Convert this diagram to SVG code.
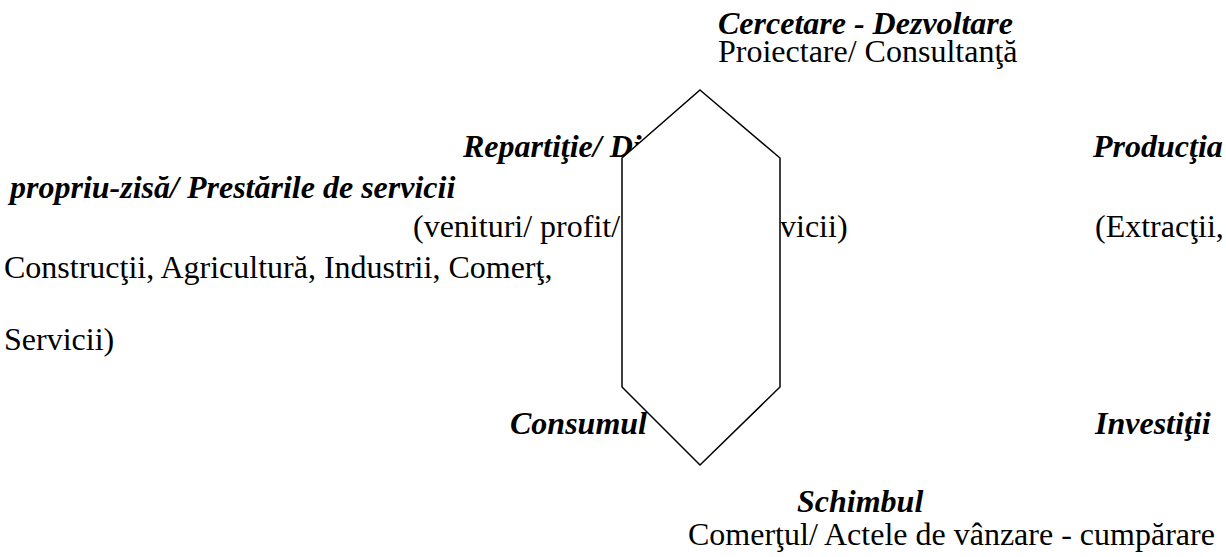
<svg xmlns="http://www.w3.org/2000/svg" width="1226" height="557" viewBox="0 0 1226 557">
<style>
.h{font-weight:bold;font-style:italic}
.shape{fill:#fff;stroke:#000;stroke-width:1.5}
</style>
<rect width="1226" height="557" fill="#fff"/>
<g id="labels" fill="#000">
<g id="node-cercetare">
<text font-family="Liberation Serif" font-size="32" class="h" x="718" y="34">Cercetare - Dezvoltare</text>
<text font-family="Liberation Serif" font-size="32" x="718" y="62">Proiectare/ Consultanţă</text>
</g>
<g id="node-repartitie">
<text font-family="Liberation Serif" font-size="32" class="h" x="463" y="157">Repartiţie/ Di</text>
<text font-family="Liberation Serif" font-size="32" x="413" y="237">(venituri/ profit/</text>
<text font-family="Liberation Serif" font-size="32" x="780" y="237">vicii)</text>
</g>
<g id="node-productia">
<text font-family="Liberation Serif" font-size="32" class="h" x="1093" y="157">Producţia</text>
<text font-family="Liberation Serif" font-size="32" class="h" x="10" y="198">propriu-zisă/ Prestările de servicii</text>
<text font-family="Liberation Serif" font-size="32" x="1095" y="237">(Extracţii,</text>
<text font-family="Liberation Serif" font-size="32" x="4" y="278">Construcţii, Agricultură, Industrii, Comerţ,</text>
<text font-family="Liberation Serif" font-size="32" x="4" y="350">Servicii)</text>
</g>
<g id="node-consumul">
<text font-family="Liberation Serif" font-size="32" class="h" x="510" y="434">Consumul</text>
</g>
<g id="node-investitii">
<text font-family="Liberation Serif" font-size="32" class="h" x="1095" y="434">Investiţii</text>
</g>
<g id="node-schimbul">
<text font-family="Liberation Serif" font-size="32" class="h" x="797" y="512">Schimbul</text>
<text font-family="Liberation Serif" font-size="32" x="688" y="545">Comerţul/ Actele de vânzare - cumpărare</text>
</g>
</g>
<g id="hexagon">
<polygon class="shape" points="700,90 780,158 780,387 700,465 622,387 622,158"/>
</g>
</svg>
